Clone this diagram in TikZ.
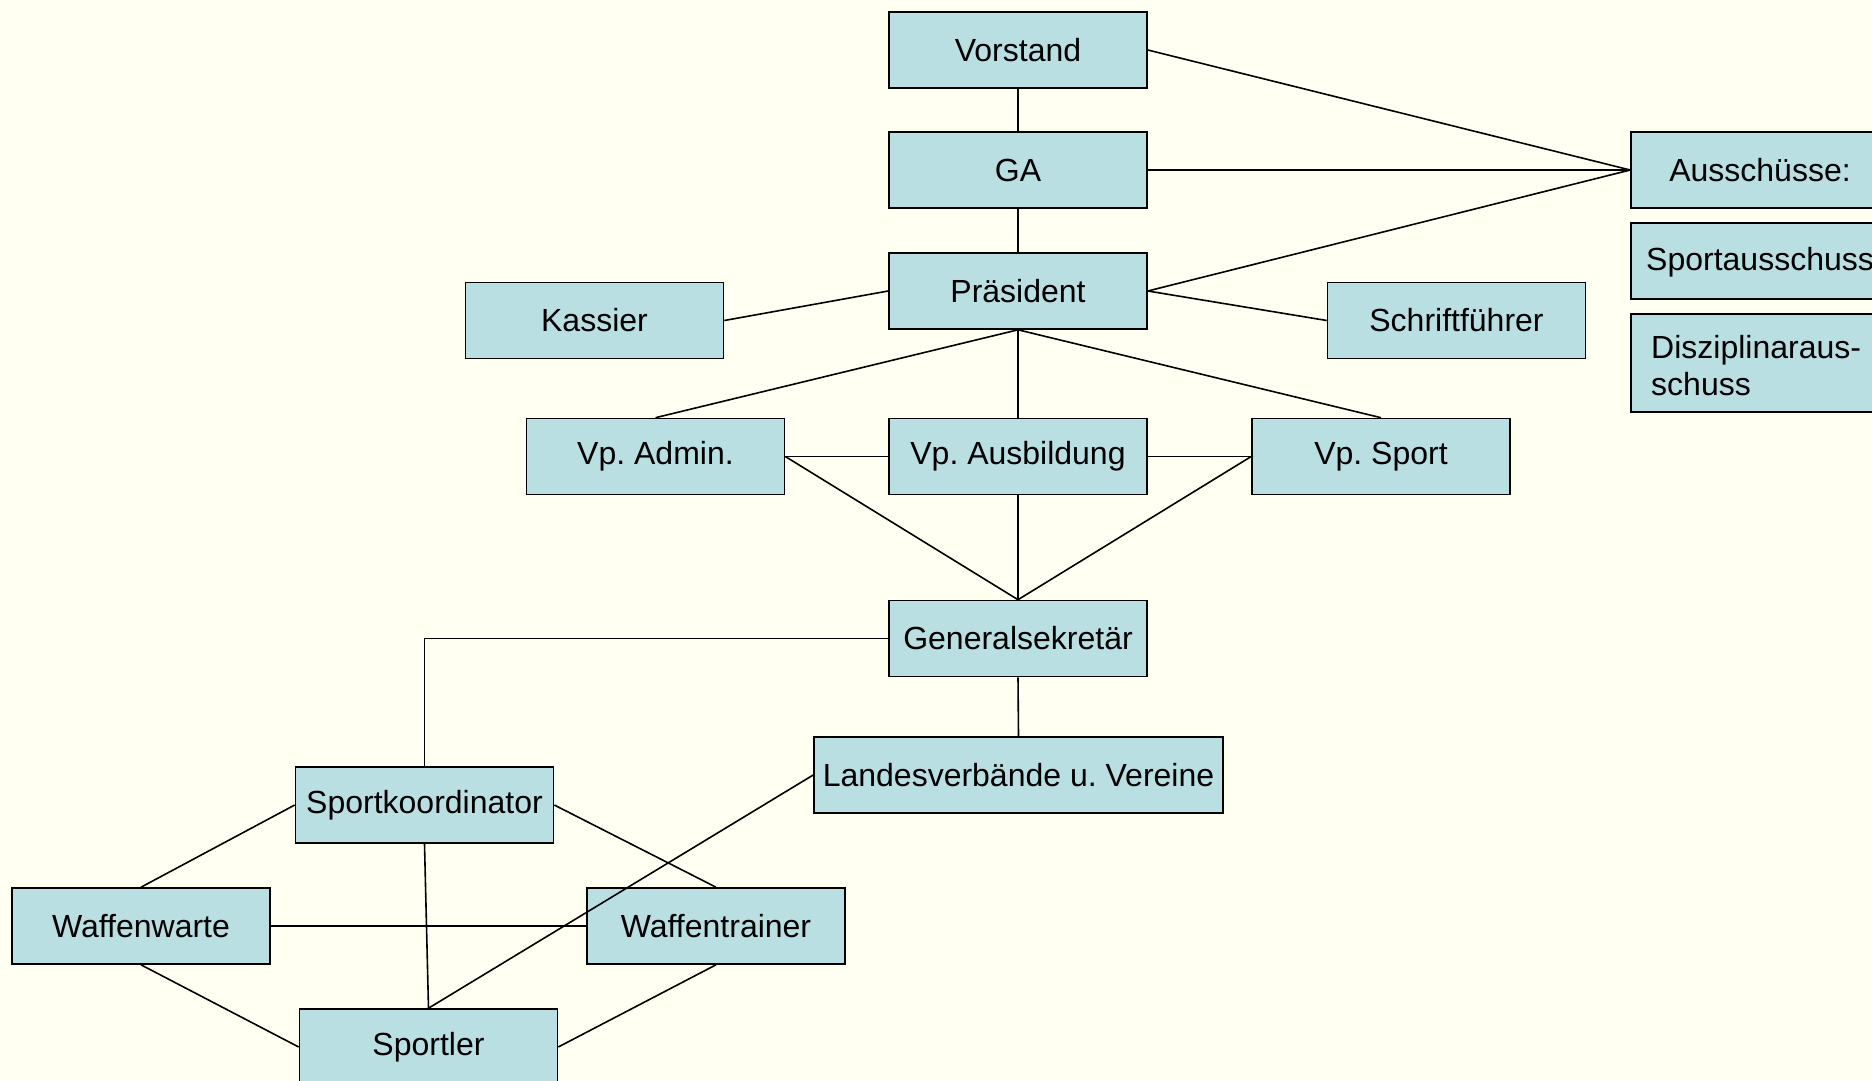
\documentclass[tikz,border=0pt]{standalone}
\usepackage{fontspec}
\setmainfont{Liberation Sans}
\frenchspacing
\definecolor{bgc}{RGB}{255,255,242}
\definecolor{boxc}{RGB}{185,223,227}
\begin{document}
\begin{tikzpicture}[x=1pt,y=-1pt,
  box/.style={draw=black,fill=boxc,line width=1.6pt,rectangle,minimum width=258pt,minimum height=76pt,inner sep=0pt,font=\fontsize{32}{37}\selectfont},
  lbl/.style={inner sep=0pt,font=\fontsize{32}{37}\selectfont,align=left},
  conn/.style={line width=1.6pt,draw=black}]
\clip (0,0) rectangle (1872,1081);
\fill[bgc] (0,0) rectangle (1872,1081);
% top column
\node[box] (vor) at (1018,50) {Vorstand};
\node[box] (ga) at (1018,170) {GA};
\node[box] (pr) at (1018,291) {Präsident};
\node[box] (kas) at (594.5,320.5) {Kassier};
\node[box] (sch) at (1456.5,320.5) {Schriftführer};
\node[box] (vpa) at (655.5,456.5) {Vp. Admin.};
\node[box] (vpb) at (1018,456.5) {Vp. Ausbildung};
\node[box] (vps) at (1381,456.5) {Vp. Sport};
\node[box] (gs) at (1018,638.5) {Generalsekretär};
\node[box,minimum width=409pt] (lv) at (1018.5,775) {Landesverbände u. Vereine};
\node[box] (sk) at (424.5,805) {Sportkoordinator};
\node[box] (ww) at (141,926) {Waffenwarte};
\node[box] (wt) at (716,926) {Waffentrainer};
\node[box] (sp) at (428.5,1047) {Sportler};
% right column
\node[box] (aus) at (1760,170) {Ausschüsse:};
\node[box] (spa) at (1760,261) {};
\node[lbl,anchor=west] (spat) at (1646,262) {Sportausschuss};
\node[box,minimum height=98pt] (dis) at (1760,363) {};
\node[lbl,anchor=west] (dist) at (1651,365.5) {Disziplinaraus-\\schuss};
% connectors
\draw[conn] (vor.east) -- (aus.west);
\draw[conn] (ga.east) -- (aus.west);
\draw[conn] (pr.east) -- (aus.west);
\draw[conn] (vor.south) -- (ga.north);
\draw[conn] (ga.south) -- (pr.north);
\draw[conn] (kas.east) -- (pr.west);
\draw[conn] (pr.east) -- (sch.west);
\draw[conn] (pr.south) -- (vpa.north);
\draw[conn] (pr.south) -- (vpb.north);
\draw[conn] (pr.south) -- (vps.north);
\draw[conn] (vpa.east) -- (vpb.west);
\draw[conn] (vpb.east) -- (vps.west);
\draw[conn] (vpa.east) -- (gs.north);
\draw[conn] (vps.west) -- (gs.north);
\draw[conn] (vpb.south) -- (gs.north);
\draw[conn] (gs.west) -| (sk.north);
\draw[conn] (gs.south) -- (lv.north);
\draw[conn] (sk.west) -- (ww.north);
\draw[conn] (sk.east) -- (wt.north);
\draw[conn] (sk.south) -- (sp.north);
\draw[conn] (ww.east) -- (wt.west);
\draw[conn] (ww.south) -- (sp.west);
\draw[conn] (wt.south) -- (sp.east);
\draw[conn] (lv.west) -- (sp.north);
\end{tikzpicture}
\end{document}
